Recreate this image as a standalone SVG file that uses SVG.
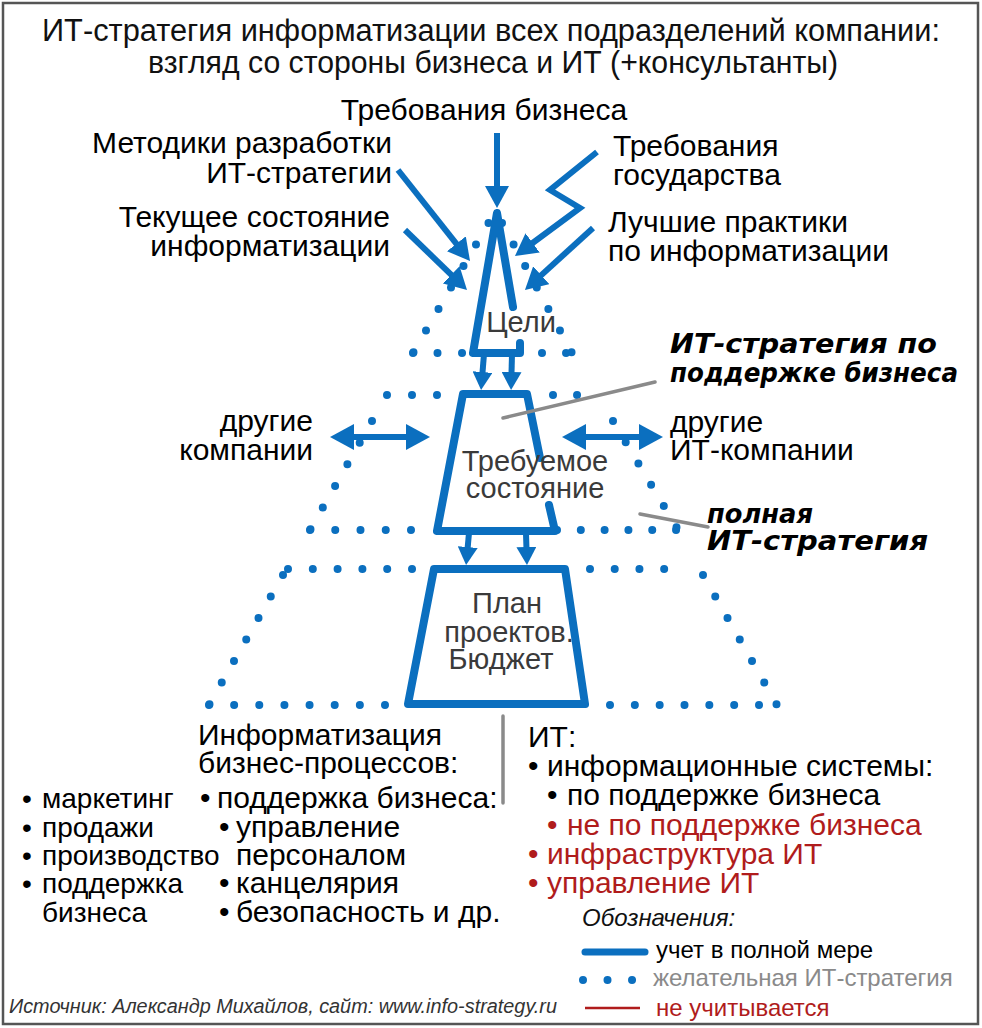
<svg xmlns="http://www.w3.org/2000/svg" width="982" height="1028" viewBox="0 0 982 1028">
<defs>
<style>
text{font-family:"Liberation Sans",Arial,sans-serif}
.title{font-size:31px;fill:#111}
.lbl{font-size:30px;fill:#000}
.node{font-size:29px;fill:#3a3a3a}
.list{font-size:30px;fill:#000}
.list28{font-size:28px;fill:#000}
.red{fill:#b01c1c}
.bi{font-family:"DejaVu Sans",sans-serif;font-weight:bold;font-style:italic;font-size:26px;fill:#000}
.leg{font-size:24px}
.gray{fill:#8a8a8a}
.src{font-size:20px;font-style:italic;fill:#333}
.solid{fill:none;stroke:#0b6fbf;stroke-width:8;stroke-linecap:round;stroke-linejoin:round}
.dot{fill:none;stroke:#0b6fbf;stroke-width:8;stroke-linecap:round;stroke-dasharray:0 25}
.arr{fill:none;stroke:#0b6fbf;stroke-width:6;stroke-linejoin:miter}
.ptr{stroke:#8a8a8a;stroke-width:3.5;stroke-linecap:round}
</style>
<marker id="ah" viewBox="0 0 22 24" refX="11" refY="12" markerWidth="22" markerHeight="24" markerUnits="userSpaceOnUse" orient="auto"><path d="M0,0 L22,12 L0,24 Z" fill="#0b6fbf"/></marker>
<marker id="ahs" viewBox="0 0 18 20" refX="9" refY="10" markerWidth="18" markerHeight="20" markerUnits="userSpaceOnUse" orient="auto"><path d="M0,0 L18,10 L0,20 Z" fill="#0b6fbf"/></marker>
<marker id="ahd" viewBox="0 0 24 26" refX="11" refY="13" markerWidth="24" markerHeight="26" markerUnits="userSpaceOnUse" orient="auto-start-reverse"><path d="M0,0 L24,13 L0,26 Z" fill="#0b6fbf"/></marker>
</defs>
<rect x="0" y="0" width="982" height="1028" fill="#fff"/>
<rect x="3" y="3" width="975" height="1021" fill="none" stroke="#555" stroke-width="2.5"/>

<g id="title">
<text class="title" x="491" y="41" text-anchor="middle" textLength="898" lengthAdjust="spacingAndGlyphs">ИТ-стратегия информатизации всех подразделений компании:</text>
<text class="title" x="493" y="73" text-anchor="middle" textLength="690" lengthAdjust="spacingAndGlyphs">взгляд со стороны бизнеса и ИТ (+консультанты)</text>
</g>

<g id="inputs">
<text class="lbl" x="484" y="120" text-anchor="middle">Требования бизнеса</text>
<text class="lbl" x="392" y="153" text-anchor="end">Методики разработки</text>
<text class="lbl" x="392" y="183" text-anchor="end">ИТ-стратегии</text>
<text class="lbl" x="390" y="227" text-anchor="end">Текущее состояние</text>
<text class="lbl" x="390" y="256" text-anchor="end">информатизации</text>
<text class="lbl" x="613" y="156">Требования</text>
<text class="lbl" x="613" y="185">государства</text>
<text class="lbl" x="608" y="232">Лучшие практики</text>
<text class="lbl" x="608" y="261">по информатизации</text>
</g>

<g id="dotted-levels">
<g id="level1">
<path class="dot" d="M488.5,223 L413,353" pathLength="151"/>
<path class="dot" d="M502,223 L572,353" pathLength="151"/>
<path class="dot" d="M413,353 L463,353" pathLength="51"/>
<path class="dot" d="M542,353 L567,353" pathLength="26"/>
</g>
<g id="level2">
<path class="dot" d="M387,395 L438,395" pathLength="51"/>
<path class="dot" d="M553,395 L578,395" pathLength="26"/>
<path class="dot" d="M372,421 L310,530" pathLength="126"/>
<path class="dot" d="M613,421 L677,528" pathLength="126"/>
<path class="dot" d="M310,530 L412,530" pathLength="101"/>
<path class="dot" d="M557,530 L677,530" pathLength="126"/>
</g>
<g id="level3">
<path class="dot" d="M288,569 L413,569" pathLength="126"/>
<path class="dot" d="M590,569 L678,569" pathLength="89"/>
<path class="dot" d="M703,575 L777,705" pathLength="151"/>
<path class="dot" d="M283,575 L209,705" pathLength="151"/>
<path class="dot" d="M209,705 L386,705" pathLength="176"/>
<path class="dot" d="M610,705 L760,705" pathLength="151"/>
</g>
</g>

<g id="goals">
<path class="solid" d="M513,307 L497,213 L473,353 L520,353 L520,343"/>
<text class="node" x="521" y="332" text-anchor="middle" font-size="27.5">Цели</text>
</g>

<g id="required-state">
<path class="solid" d="M540,458 L527,394 L463,394 L437,531 L555,531 L549,505"/>
<text class="node" x="535" y="471" text-anchor="middle">Требуемое</text>
<text class="node" x="535" y="498" text-anchor="middle">состояние</text>
</g>

<g id="plan">
<path class="solid" d="M434,569 L565,569 L585,704 L408,704 Z"/>
<text class="node" x="507" y="613" text-anchor="middle">План</text>
<text class="node" x="509" y="642" text-anchor="middle" font-size="28">проектов.</text>
<text class="node" x="501" y="669" text-anchor="middle">Бюджет</text>
</g>

<g id="connectors">
<path class="arr" d="M497,133 L497,197" marker-end="url(#ah)"/>
<path class="arr" d="M398,170 L463.2,252.4" marker-end="url(#ah)"/>
<path class="arr" d="M405,230 L459.1,282.4" marker-end="url(#ah)"/>
<path class="arr" d="M597,152 L550,190 L580,208 L523.8,249.5" marker-end="url(#ah)"/>
<path class="arr" d="M593,228 L533.1,282.6" marker-end="url(#ah)"/>
<path class="arr" d="M484,354 L481.8,381" marker-end="url(#ahs)"/>
<path class="arr" d="M512,354 L511.3,381" marker-end="url(#ahs)"/>
<path class="arr" d="M469,533 L466.9,556" marker-end="url(#ahs)"/>
<path class="arr" d="M526,533 L526.7,556" marker-end="url(#ahs)"/>
<path class="arr" d="M343,437 L417,437" marker-start="url(#ahd)" marker-end="url(#ahd)"/>
<path class="arr" d="M575,437 L650,437" marker-start="url(#ahd)" marker-end="url(#ahd)"/>
<line class="ptr" x1="503" y1="418" x2="655" y2="382"/>
<line class="ptr" x1="640" y1="514" x2="708" y2="527"/>
<line class="ptr" x1="503" y1="716" x2="503" y2="803" stroke-width="5"/>
</g>

<g id="side-labels">
<text class="lbl" x="313" y="431" text-anchor="end">другие</text>
<text class="lbl" x="313" y="460" text-anchor="end">компании</text>
<text class="lbl" x="670" y="432">другие</text>
<text class="lbl" x="670" y="460">ИТ-компании</text>
</g>

<g id="strategy-labels">
<text class="bi" x="670" y="353" textLength="267" lengthAdjust="spacingAndGlyphs">ИТ-стратегия по</text>
<text class="bi" x="670" y="382" textLength="288" lengthAdjust="spacingAndGlyphs">поддержке бизнеса</text>
<text class="bi" x="707" y="523" textLength="106" lengthAdjust="spacingAndGlyphs">полная</text>
<text class="bi" x="707" y="550" textLength="221" lengthAdjust="spacingAndGlyphs">ИТ-стратегия</text>
</g>

<g id="business-list">
<text class="list28" y="808"><tspan x="22">•</tspan><tspan x="42">маркетинг</tspan></text>
<text class="list28" y="837"><tspan x="22">•</tspan><tspan x="42">продажи</tspan></text>
<text class="list28" y="865"><tspan x="22">•</tspan><tspan x="42">производство</tspan></text>
<text class="list28" y="893"><tspan x="22">•</tspan><tspan x="42">поддержка</tspan></text>
<text class="list28" x="42" y="922">бизнеса</text>
</g>

<g id="process-list">
<text class="list" x="198" y="745">Информатизация</text>
<text class="list" x="198" y="773">бизнес-процессов:</text>
<text class="list" y="808"><tspan x="200">•</tspan><tspan x="217">поддержка бизнеса:</tspan></text>
<text class="list" y="837"><tspan x="219">•</tspan><tspan x="236">управление</tspan></text>
<text class="list" x="236" y="865">персоналом</text>
<text class="list" y="893"><tspan x="219">•</tspan><tspan x="236">канцелярия</tspan></text>
<text class="list" y="922"><tspan x="219">•</tspan><tspan x="236">безопасность и др.</tspan></text>
</g>

<g id="it-list">
<text class="list" x="528" y="747">ИТ:</text>
<text class="list" y="776"><tspan x="528">•</tspan><tspan x="547">информационные системы:</tspan></text>
<text class="list" y="805"><tspan x="547">•</tspan><tspan x="567">по поддержке бизнеса</tspan></text>
<text class="list red" y="835"><tspan x="547">•</tspan><tspan x="567">не по поддержке бизнеса</tspan></text>
<text class="list red" y="864"><tspan x="528">•</tspan><tspan x="547">инфраструктура ИТ</tspan></text>
<text class="list red" y="893"><tspan x="528">•</tspan><tspan x="547">управление ИТ</tspan></text>
</g>

<g id="legend">
<text class="leg" x="582" y="926" font-style="italic" fill="#111">Обозначения:</text>
<line x1="585" y1="952" x2="645" y2="952" stroke="#0b6fbf" stroke-width="7" stroke-linecap="round"/>
<text class="leg" x="656" y="958" fill="#000">учет в полной мере</text>
<path d="M583,980 L633,980" class="dot" pathLength="51"/>
<text class="leg gray" x="653" y="986">желательная ИТ-стратегия</text>
<line x1="585" y1="1008" x2="640" y2="1008" stroke="#b01c1c" stroke-width="2.5"/>
<text class="leg red" x="656" y="1016">не учитывается</text>
</g>

<g id="source">
<text class="src" x="9" y="1013" textLength="548" lengthAdjust="spacingAndGlyphs">Источник: Александр Михайлов, сайт: www.info-strategy.ru</text>
</g>
</svg>
